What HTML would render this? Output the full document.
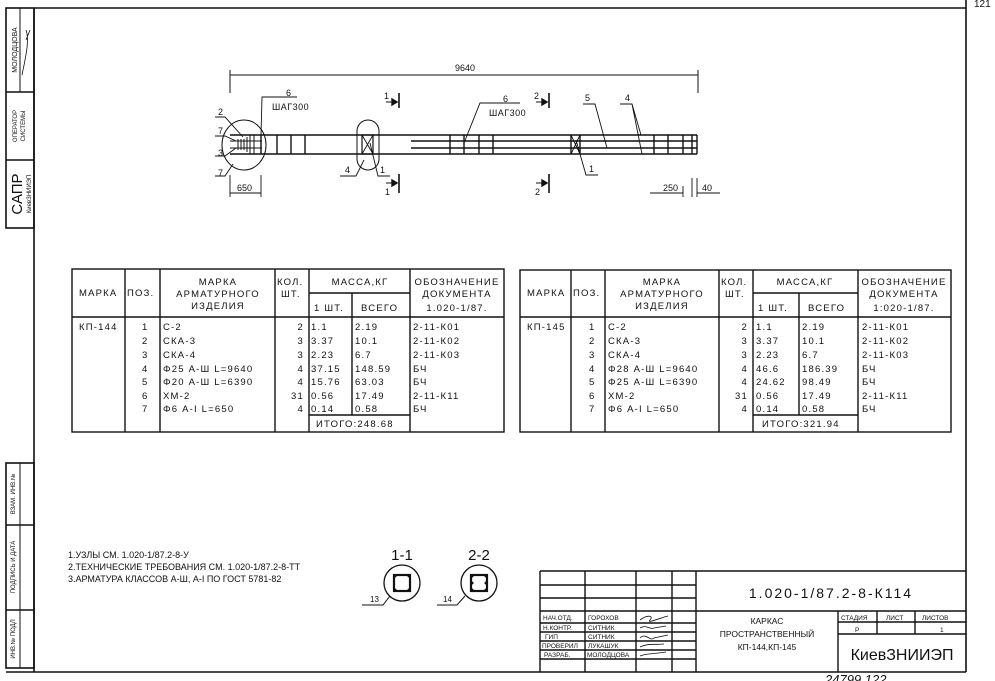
<!DOCTYPE html>
<html><head><meta charset="utf-8"><style>
html,body{margin:0;padding:0;background:#fff}
svg{display:block}
text{font-family:"Liberation Sans",sans-serif;fill:#111}
.t{font-size:9.5px;letter-spacing:1.2px}
.s{font-size:6px}
</style></head><body>
<svg width="995" height="681" viewBox="0 0 995 681" xmlns="http://www.w3.org/2000/svg">
<g stroke="#111" fill="none" stroke-width="1.6">
<!-- frame -->
<line x1="34" y1="8" x2="966" y2="8"/>
<line x1="34" y1="8" x2="34" y2="672"/>
<line x1="966" y1="0" x2="966" y2="672"/>
<line x1="6" y1="672" x2="966" y2="672"/>
<!-- left strip top -->
<rect x="6" y="8" width="28" height="220"/>
<line x1="6" y1="92" x2="34" y2="92"/>
<line x1="6" y1="160" x2="34" y2="160"/>
<line x1="20" y1="8" x2="20" y2="92" stroke-width="1"/>
<!-- left strip bottom -->
<rect x="6" y="463" width="28" height="205"/>
<line x1="6" y1="525" x2="34" y2="525"/>
<line x1="6" y1="610" x2="34" y2="610"/>
<line x1="20" y1="463" x2="20" y2="668" stroke-width="1"/>
</g>
<text x="974" y="7" style="font-size:10px">121</text>
<g class="s">
<text transform="translate(17,50) rotate(-90)" text-anchor="middle" style="font-size:7px">МОЛОДЦОВА</text>
<text transform="translate(17,126) rotate(-90)" text-anchor="middle">ОПЕРАТОР</text>
<text transform="translate(25,126) rotate(-90)" text-anchor="middle">СИСТЕМЫ</text>
<text transform="translate(22,194) rotate(-90)" text-anchor="middle" style="font-size:15px">САПР</text>
<text transform="translate(31,194) rotate(-90)" text-anchor="middle">КиевЗНИИЭП</text>
<text transform="translate(15,494) rotate(-90)" text-anchor="middle">ВЗАМ. ИНВ.№</text>
<text transform="translate(15,567) rotate(-90)" text-anchor="middle">ПОДПИСЬ И ДАТА</text>
<text transform="translate(15,639) rotate(-90)" text-anchor="middle">ИНВ.№ ПОДЛ</text>
</g>
<path d="M22 75 C25 60,30 40,26 30 M26 40 l4 -10" stroke="#111" fill="none" stroke-width="0.8"/>

<!-- drawing -->
<g stroke="#111" fill="none" stroke-width="1.4">
<line x1="230" y1="75" x2="698" y2="75" stroke-width="1"/>
<line x1="230" y1="70" x2="230" y2="93" stroke-width="1"/>
<line x1="698" y1="70" x2="698" y2="93" stroke-width="1"/>
<line x1="230" y1="135" x2="697" y2="135"/>
<line x1="230" y1="154" x2="697" y2="154"/>
<line x1="411" y1="141" x2="697" y2="141"/>
<line x1="411" y1="148" x2="697" y2="148"/>
<line x1="230" y1="141" x2="262" y2="141" stroke-width="1"/>
<line x1="230" y1="148" x2="262" y2="148" stroke-width="1"/>
<path d="M261 135V154M277 135V154M291 135V154M305 135V154M450 135V154M464 135V154M479 135V154M493 135V154M571 135V154M580 135V154M654 135V154M668 135V154M683 135V154M692 135V154M697 135V154"/>
<path d="M238 139V150M241 139V150M244 139V150M247 137V152M250 135V154M254 135V154" stroke-width="1"/>
<path d="M571 135L580 154M580 135L571 154" stroke-width="0.9"/>
<ellipse cx="244" cy="145" rx="22" ry="25" stroke-width="1"/>
<rect x="362" y="135" width="11" height="19" stroke-width="1.2"/>
<path d="M362 135L373 154M373 135L362 154" stroke-width="0.9"/>
<rect x="357" y="120" width="22" height="50" rx="11" stroke-width="1"/>
<!-- sections -->
<path d="M399 93V108M399 174V193M549 93V108M549 174V193" stroke-width="1.6"/>
<path d="M386 102H396M386 183H396M536 102H546M536 183H546" stroke-width="1"/>
<path d="M397 102l-5 -3v6zM397 183l-5 -3v6zM547 102l-5 -3v6zM547 183l-5 -3v6z" fill="#111"/>
<!-- leaders -->
<g stroke-width="0.9">
<path d="M261 135L262 97H297"/>
<path d="M464 143L480 103H520"/>
<path d="M215 117H225L243 137"/>
<path d="M215 136H225L236 141"/>
<path d="M215 156H225L236 148"/>
<path d="M215 176H225L233 164"/>
<path d="M583 104H595L607 148"/>
<path d="M620 104H632L641 135M632 104L642 154"/>
<path d="M576 140L586 175H598"/>
<path d="M340 176H356L364 160"/>
<path d="M370 143L378 176H390"/>
<path d="M230 175V197M261 175V197M230 193H261"/>
<path d="M667 193H683M692 178V197M697 178V197M697 193H720M667 193H650"/>
<path d="M683 186V197"/>
</g>
</g>
<g style="font-size:9px">
<text x="455" y="71">9640</text>
<text x="286" y="96">6</text><text x="272" y="110" style="letter-spacing:0.5px">ШАГ300</text>
<text x="503" y="102">6</text><text x="489" y="116" style="letter-spacing:0.5px">ШАГ300</text>
<text x="218" y="115">2</text><text x="218" y="134">7</text><text x="218" y="156">3</text><text x="218" y="176">7</text>
<text x="384" y="99">1</text><text x="534" y="99">2</text>
<text x="385" y="195">1</text><text x="535" y="195">2</text>
<text x="585" y="101">5</text><text x="625" y="101">4</text>
<text x="589" y="172">1</text><text x="345" y="173">4</text><text x="380" y="173">1</text>
<text x="237" y="191">650</text>
<text x="663" y="191">250</text><text x="702" y="191">40</text>
</g>

<!-- tables -->
<g stroke="#111" fill="none" stroke-width="1.4">
<rect x="72" y="269" width="432" height="163"/>
<path d="M72 317H504M125 269V432M160 269V432M275 269V432M309 269V432M410 269V432M309 293H410M352 293V415M309 415H410"/>
<rect x="520" y="270" width="431" height="162"/>
<path d="M520 317H951M571 270V432M605 270V432M719 270V432M753 270V432M858 270V432M753 293H858M799 293V415M753 415H858"/>
</g>
<g class="t">
<text x="79" y="296">МАРКА</text><text x="127" y="296">ПОЗ.</text>
<text x="218" y="285" text-anchor="middle">МАРКА</text><text x="218" y="297" text-anchor="middle">АРМАТУРНОГО</text><text x="218" y="309" text-anchor="middle">ИЗДЕЛИЯ</text>
<text x="277" y="285">КОЛ.</text><text x="281" y="297">ШТ.</text>
<text x="360" y="285" text-anchor="middle">МАССА,КГ</text>
<text x="314" y="311">1 ШТ.</text><text x="361" y="311">ВСЕГО</text>
<text x="457" y="285" text-anchor="middle">ОБОЗНАЧЕНИЕ</text><text x="457" y="297" text-anchor="middle">ДОКУМЕНТА</text><text x="457" y="311" text-anchor="middle">1.020-1/87.</text>
<text x="79" y="330">КП-144</text>
<text x="142" y="330">1</text><text x="142" y="344">2</text><text x="142" y="358">3</text><text x="142" y="372">4</text><text x="142" y="385">5</text><text x="142" y="399">6</text><text x="142" y="412">7</text>
<text x="163" y="330">С-2</text><text x="163" y="344">СКА-3</text><text x="163" y="358">СКА-4</text><text x="163" y="372">Φ25 А-Ш L=9640</text><text x="163" y="385">Φ20 А-Ш L=6390</text><text x="163" y="399">ХМ-2</text><text x="163" y="412">Φ6 А-I L=650</text>
<text x="304" y="330" text-anchor="end">2</text><text x="304" y="344" text-anchor="end">3</text><text x="304" y="358" text-anchor="end">3</text><text x="304" y="372" text-anchor="end">4</text><text x="304" y="385" text-anchor="end">4</text><text x="304" y="399" text-anchor="end">31</text><text x="304" y="412" text-anchor="end">4</text>
<text x="311" y="330">1.1</text><text x="311" y="344">3.37</text><text x="311" y="358">2.23</text><text x="311" y="372">37.15</text><text x="311" y="385">15.76</text><text x="311" y="399">0.56</text><text x="311" y="412">0.14</text>
<text x="355" y="330">2.19</text><text x="355" y="344">10.1</text><text x="355" y="358">6.7</text><text x="355" y="372">148.59</text><text x="355" y="385">63.03</text><text x="355" y="399">17.49</text><text x="355" y="412">0.58</text>
<text x="316" y="427">ИТОГО:248.68</text>
<text x="413" y="330">2-11-К01</text><text x="413" y="344">2-11-К02</text><text x="413" y="358">2-11-К03</text><text x="413" y="372">БЧ</text><text x="413" y="385">БЧ</text><text x="413" y="399">2-11-К11</text><text x="413" y="412">БЧ</text>

<text x="527" y="296">МАРКА</text><text x="573" y="296">ПОЗ.</text>
<text x="662" y="285" text-anchor="middle">МАРКА</text><text x="662" y="297" text-anchor="middle">АРМАТУРНОГО</text><text x="662" y="309" text-anchor="middle">ИЗДЕЛИЯ</text>
<text x="721" y="285">КОЛ.</text><text x="725" y="297">ШТ.</text>
<text x="805" y="285" text-anchor="middle">МАССА,КГ</text>
<text x="758" y="311">1 ШТ.</text><text x="808" y="311">ВСЕГО</text>
<text x="904" y="285" text-anchor="middle">ОБОЗНАЧЕНИЕ</text><text x="904" y="297" text-anchor="middle">ДОКУМЕНТА</text><text x="904" y="311" text-anchor="middle">1:020-1/87.</text>
<text x="527" y="330">КП-145</text>
<text x="589" y="330">1</text><text x="589" y="344">2</text><text x="589" y="358">3</text><text x="589" y="372">4</text><text x="589" y="385">5</text><text x="589" y="399">6</text><text x="589" y="412">7</text>
<text x="608" y="330">С-2</text><text x="608" y="344">СКА-3</text><text x="608" y="358">СКА-4</text><text x="608" y="372">Φ28 А-Ш L=9640</text><text x="608" y="385">Φ25 А-Ш L=6390</text><text x="608" y="399">ХМ-2</text><text x="608" y="412">Φ6 А-I L=650</text>
<text x="748" y="330" text-anchor="end">2</text><text x="748" y="344" text-anchor="end">3</text><text x="748" y="358" text-anchor="end">3</text><text x="748" y="372" text-anchor="end">4</text><text x="748" y="385" text-anchor="end">4</text><text x="748" y="399" text-anchor="end">31</text><text x="748" y="412" text-anchor="end">4</text>
<text x="756" y="330">1.1</text><text x="756" y="344">3.37</text><text x="756" y="358">2.23</text><text x="756" y="372">46.6</text><text x="756" y="385">24.62</text><text x="756" y="399">0.56</text><text x="756" y="412">0.14</text>
<text x="802" y="330">2.19</text><text x="802" y="344">10.1</text><text x="802" y="358">6.7</text><text x="802" y="372">186.39</text><text x="802" y="385">98.49</text><text x="802" y="399">17.49</text><text x="802" y="412">0.58</text>
<text x="762" y="427">ИТОГО:321.94</text>
<text x="862" y="330">2-11-К01</text><text x="862" y="344">2-11-К02</text><text x="862" y="358">2-11-К03</text><text x="862" y="372">БЧ</text><text x="862" y="385">БЧ</text><text x="862" y="399">2-11-К11</text><text x="862" y="412">БЧ</text>
</g>

<!-- notes -->
<g style="font-size:9px">
<text x="68" y="558">1.УЗЛЫ СМ. 1.020-1/87.2-8-У</text>
<text x="68" y="570">2.ТЕХНИЧЕСКИЕ ТРЕБОВАНИЯ СМ. 1.020-1/87.2-8-ТТ</text>
<text x="68" y="582">3.АРМАТУРА КЛАССОВ А-Ш, А-I ПО ГОСТ 5781-82</text>
</g>
<text x="402" y="560" text-anchor="middle" style="font-size:15px">1-1</text>
<text x="479" y="560" text-anchor="middle" style="font-size:15px">2-2</text>
<g stroke="#111" fill="none">
<circle cx="402" cy="583" r="18" stroke-width="1.3"/>
<rect x="394" y="575" width="16" height="16" stroke-width="2.2"/>
<circle cx="479" cy="583" r="18" stroke-width="1.3"/>
<rect x="471" y="575" width="16" height="16" stroke-width="2.2"/>
<path d="M362 605H383L390 596M437 605H457L465 596" stroke-width="1"/>
</g>
<g fill="#111"><circle cx="395" cy="576" r="1.5"/><circle cx="409" cy="576" r="1.5"/><circle cx="395" cy="590" r="1.5"/><circle cx="409" cy="590" r="1.5"/>
<circle cx="472" cy="576" r="1.5"/><circle cx="486" cy="576" r="1.5"/><circle cx="472" cy="590" r="1.5"/><circle cx="486" cy="590" r="1.5"/><circle cx="472" cy="583" r="1.5"/><circle cx="486" cy="583" r="1.5"/></g>
<text x="370" y="602" style="font-size:8px">13</text>
<text x="443" y="602" style="font-size:8px">14</text>

<!-- title block -->
<g stroke="#111" fill="none" stroke-width="1.4">
<path d="M540 571H966M540 571V672M540 585H696M540 598H696M540 611H966M540 623H696M540 632H696M540 641H696M540 650H696M540 659H696"/>
<path d="M585 571V672M636 571V672M672 571V672M696 571V672"/>
<path d="M838 611V672M838 622H966M838 634H966M877 611V634M915 611V634"/>
</g>
<g style="font-size:6.5px">
<text x="543" y="620">НАЧ.ОТД.</text><text x="588" y="620">ГОРОХОВ</text>
<text x="543" y="630">Н.КОНТР.</text><text x="588" y="630">СИТНИК</text>
<text x="545" y="639">ГИП</text><text x="588" y="639">СИТНИК</text>
<text x="542" y="648">ПРОВЕРИЛ</text><text x="588" y="648">ЛУКАШУК</text>
<text x="544" y="657">РАЗРАБ.</text><text x="587" y="657">МОЛОДЦОВА</text>
<text x="841" y="620">СТАДИЯ</text><text x="886" y="620">ЛИСТ</text><text x="922" y="620">ЛИСТОВ</text>
<text x="855" y="632">Р</text><text x="940" y="632">1</text>
</g>
<g stroke="#111" fill="none" stroke-width="0.8">
<path d="M640 620c8-6 14-4 10 0s10-2 18-4M640 628c6-4 10 2 14 0l12-2M640 638c6-6 10 4 14 0l14-3M640 647c8-4 14-2 24-3M640 656c8-3 14-2 26-4"/>
</g>
<text x="831" y="598" text-anchor="middle" style="font-size:14px;letter-spacing:2px">1.020-1/87.2-8-К114</text>
<g style="font-size:8.5px" text-anchor="middle">
<text x="767" y="624">КАРКАС</text>
<text x="767" y="637">ПРОСТРАНСТВЕННЫЙ</text>
<text x="767" y="650">КП-144,КП-145</text>
</g>
<text x="902" y="660" text-anchor="middle" style="font-size:16px">КиевЗНИИЭП</text>
<text x="825" y="684" style="font-size:13px;font-style:italic">24799 122</text>
</svg>
</body></html>
